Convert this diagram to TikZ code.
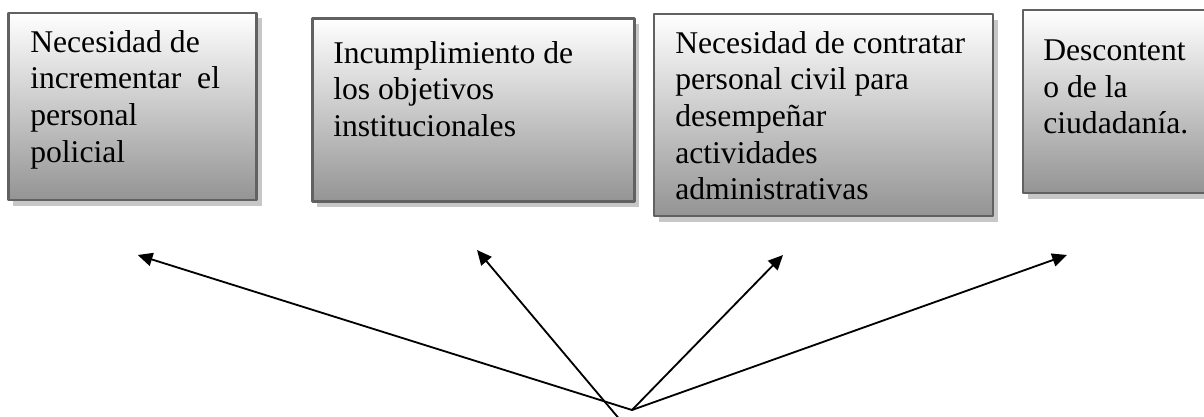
\documentclass[tikz,border=0pt]{standalone}
\usepackage{fontspec}
\setmainfont{Liberation Serif}
\usetikzlibrary{arrows.meta,shadows}

\tikzset{
  efecto/.style={rectangle, draw=black!62, line width=1.8pt, top color=white, bottom color=black!42,
    drop shadow={shadow xshift=0.12cm, shadow yshift=-0.14cm, fill=black!22, opacity=1}},
  texto/.style={anchor=base west, inner sep=0pt, font=\fontsize{22.5pt}{26.1pt}\selectfont},
  flecha/.style={->, line width=1.3pt}
}

\begin{document}
\begin{tikzpicture}[line cap=round,line join=round,>={Triangle[length=10.5pt,width=9.5pt]},x=0.025cm,y=-0.025cm]
				\useasboundingbox (0,0) rectangle (1204,416);
				\clip (0,0) rectangle (1204,416);
				% cajas
				\node[efecto, minimum width=6.21cm, minimum height=4.68cm] (efecto1) at (132.5,106.4) {};
				\node[efecto, minimum width=8.04cm, minimum height=4.585cm] (efecto2) at (473.5,110) {};
				\node[efecto, minimum width=8.47cm, minimum height=5.05cm] (efecto3) at (823.4,115) {};
				\node[efecto, minimum width=4.8cm, minimum height=4.575cm] (efecto4) at (1119,101.5) {};
				% textos
				\node[texto] (texto1) at (30,52) {\begin{tabular}[t]{@{}l@{}}Necesidad de\\ incrementar~ el\\ personal\\ policial\end{tabular}};
				\node[texto] (texto2) at (333,63) {\begin{tabular}[t]{@{}l@{}}Incumplimiento de\\ los objetivos\\ institucionales\end{tabular}};
				\node[texto] (texto3) at (675,53) {\begin{tabular}[t]{@{}l@{}}Necesidad de contratar\\ personal civil para\\ desempeñar\\ actividades\\ administrativas\end{tabular}};
				\node[texto] (texto4) at (1043,60.5) {\begin{tabular}[t]{@{}l@{}}Descontent\\ o de la\\ ciudadanía.\end{tabular}};
				% flechas
				\coordinate (origen) at (632,410);
				\coordinate (origen2) at (637,440);
				\coordinate (punta1) at (137.7,255);
				\coordinate (punta2) at (477,250);
				\coordinate (punta3) at (783,255);
				\coordinate (punta4) at (1067,255);
				\draw [flecha] (origen) -- (punta1);
				\draw [flecha] (origen2) -- (punta2);
				\draw [flecha] (origen) -- (punta3);
				\draw [flecha] (origen) -- (punta4);
			\end{tikzpicture}
\end{document}
